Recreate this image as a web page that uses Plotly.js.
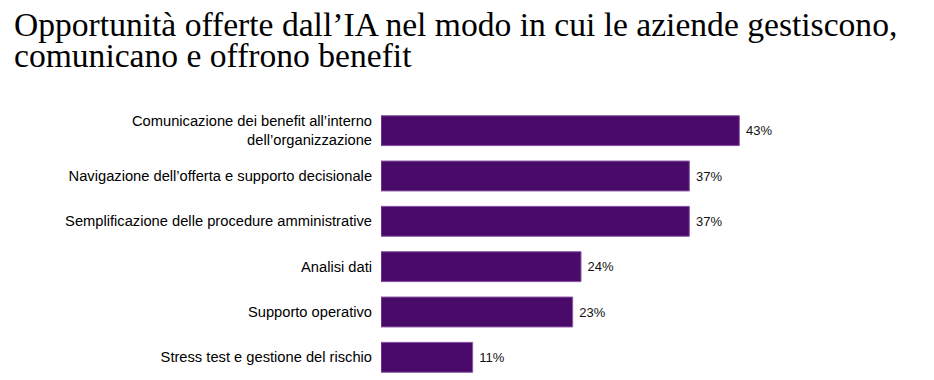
<!DOCTYPE html>
<html><head><meta charset="utf-8">
<script src="https://cdn.plot.ly/plotly-3.0.1.min.js"></script>
<style>html,body{margin:0;padding:0;background:#fff}</style>
</head><body><div id="chart" style="width:934px;height:380px"></div>
<script>
const categories = [
  "Comunicazione dei benefit all’interno<br>dell’organizzazione",
  "Navigazione dell’offerta e supporto decisionale",
  "Semplificazione delle procedure amministrative",
  "Analisi dati",
  "Supporto operativo",
  "Stress test e gestione del rischio"
];
const values = [43, 37, 37, 24, 23, 11];
const titleLines = [
  "Opportunità offerte dall’IA nel modo in cui le aziende gestiscono,",
  "comunicano e offrono benefit"
];

const trace = {
  type: 'bar', orientation: 'h',
  x: values, y: categories,
  marker: {color: '#4a0a6a', line: {color: '#8a5aa8', width: 1}},
  width: 0.66,
  text: values.map(v => ' ' + v + '%'),
  textposition: 'outside',
  textfont: {family: 'Liberation Sans, Arial, sans-serif', size: 13, color: '#111'},
  cliponaxis: false,
  hoverinfo: 'none'
};
const titleY = [1.308, 1.193];
const layout = {
  width: 934, height: 380,
  margin: {l: 381, r: 53, t: 107.5, b: 0.3},
  paper_bgcolor: '#fff', plot_bgcolor: '#fff',
  showlegend: false,
  annotations: titleLines.map((t, i) => ({
    text: t, xref: 'paper', yref: 'paper', x: -0.738, y: titleY[i],
    xanchor: 'left', yanchor: 'middle', showarrow: false,
    font: {family: 'Liberation Serif, Times New Roman, serif', size: 33.6, color: '#000'}
  })),
  xaxis: {range: [0, 60], visible: false, fixedrange: true},
  yaxis: {
    autorange: false, range: [5.5, -0.5], type: 'category',
    showgrid: false, zeroline: false, showline: false,
    ticks: 'outside', ticklen: 5, tickcolor: 'rgba(0,0,0,0)',
    tickfont: {family: 'Liberation Sans, Arial, sans-serif', size: 14.7, color: '#000'}
  }
};
Plotly.newPlot('chart', [trace], layout, {displayModeBar: false, staticPlot: true});
</script></body></html>
